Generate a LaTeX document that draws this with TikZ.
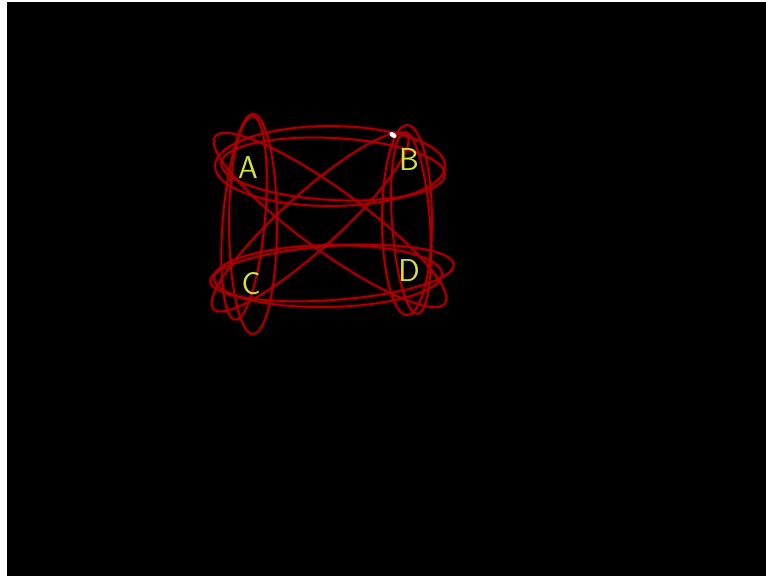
\documentclass[tikz,border=0pt]{standalone}
\usepackage{xcolor}
\usepackage{tikz}
\usetikzlibrary{positioning}
\definecolor{ink}{RGB}{168,0,4}
\definecolor{chalk}{RGB}{214,222,70}

\begin{document}
\begin{tikzpicture}[x=0.02cm,y=-0.02cm,
  lbl/.style={text=chalk,font=\sffamily\fontsize{18}{21}\selectfont,inner sep=0pt},
  loopln/.style={draw=ink,line width=1pt},
  glow/.style={draw=ink,line width=2.4pt,opacity=0.3}]
 % frame
 \fill[white] (0,0) rectangle (766,576);
 \fill[black] (7,2) rectangle (766,576);
 \useasboundingbox (0,0) rectangle (766,576);
 % the loops round each pair (x, y, a, b, angle)
 \foreach \cx/\cy/\a/\b/\r in {330/166/115/40/0, 333/169/112/31/-3,
   332/273/122/27/4, 328/276/114/31/1,
   253/224/24/110/0, 244/218/21/102/-5,
   407/220/25/95/0, 411/223/19/91/4,
   330/220/142/31/-36, 310/222/130/28/42}
 {
   \draw[glow,shift={(\cx,\cy)},rotate=\r] (0,0) ellipse [x radius=\a,y radius=\b];
   \draw[loopln,shift={(\cx,\cy)},rotate=\r] (0,0) ellipse [x radius=\a,y radius=\b];
 }
 % letters
 \node[lbl] (A) at (248,168) {A};
 \node[lbl] (B) at (409,160) {B};
 \node[lbl] (C) at (251,284) {C};
 \node[lbl] (D) at (409,271) {D};
 % pen mark
 \fill[white,rotate around={-35:(393,135)}] (393,135) ellipse [x radius=4,y radius=2.5];
\end{tikzpicture}
\end{document}
